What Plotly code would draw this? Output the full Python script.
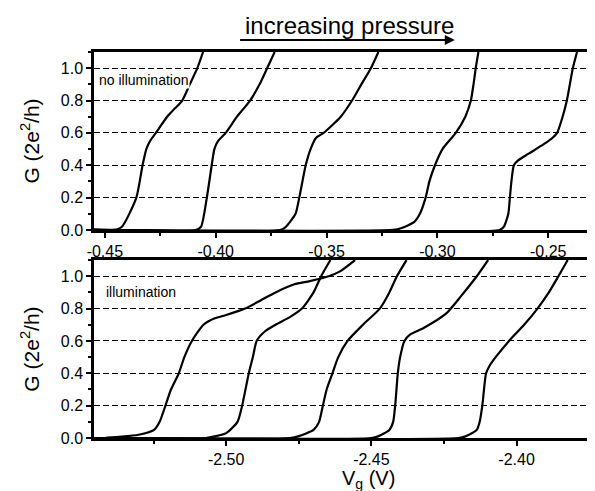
import plotly.graph_objects as go

# ---- data: top panel (no illumination), Vg in V, G in 2e^2/h ----
top_x1 = [-0.455, -0.446, -0.4423, -0.4358, -0.4330, -0.4313, -0.4296, -0.4270, -0.4219, -0.4185, -0.4151, -0.4117, -0.4083, -0.4057]
top_y1 = [0.0, 0.0, 0.02, 0.2, 0.4, 0.5, 0.55, 0.6, 0.7, 0.75, 0.8, 0.9, 1.0, 1.1]
top_x2 = [-0.455, -0.409, -0.4066, -0.4040, -0.4018, -0.4006, -0.3989, -0.3955, -0.3904, -0.3845, -0.3802, -0.3768, -0.3734]
top_y2 = [0.0, 0.0, 0.02, 0.2, 0.4, 0.5, 0.55, 0.6, 0.7, 0.8, 0.9, 1.0, 1.1]
top_x3 = [-0.455, -0.371, -0.3683, -0.3640, -0.3623, -0.3594, -0.3572, -0.3547, -0.3513, -0.3436, -0.3385, -0.3343, -0.3300, -0.3266]
top_y3 = [0.0, 0.0, 0.02, 0.1, 0.2, 0.4, 0.5, 0.57, 0.6, 0.7, 0.8, 0.9, 1.0, 1.1]
top_x4 = [-0.455, -0.320, -0.3164, -0.3104, -0.3079, -0.3053, -0.3036, -0.3011, -0.2977, -0.2917, -0.2874, -0.2849, -0.2837, -0.2827, -0.2815]
top_y4 = [0.0, 0.0, 0.01, 0.05, 0.1, 0.2, 0.3, 0.4, 0.5, 0.6, 0.7, 0.8, 0.9, 1.0, 1.1]
top_x5 = [-0.455, -0.272, -0.2700, -0.2680, -0.2673, -0.2666, -0.2655, -0.2636, -0.2590, -0.2520, -0.2480, -0.2460, -0.2435, -0.2416, -0.2389, -0.2370]
top_y5 = [0.0, 0.0, 0.02, 0.1, 0.2, 0.3, 0.4, 0.43, 0.47, 0.53, 0.57, 0.6, 0.7, 0.8, 1.0, 1.1]

# ---- data: bottom panel (illumination) ----
bot_x1 = [-2.546, -2.5418, -2.5301, -2.5248, -2.5229, -2.5209, -2.5190, -2.5163, -2.5144, -2.5118, -2.5078, -2.5039, -2.5000, -2.4935, -2.4882, -2.4830, -2.4765, -2.4712, -2.4647, -2.4608, -2.4556]
bot_y1 = [0.0, 0.0, 0.02, 0.05, 0.1, 0.2, 0.3, 0.4, 0.5, 0.6, 0.7, 0.74, 0.76, 0.8, 0.85, 0.9, 0.95, 0.97, 1.0, 1.03, 1.1]
bot_x2 = [-2.546, -2.507, -2.5039, -2.5000, -2.4961, -2.4945, -2.4922, -2.4908, -2.4895, -2.4866, -2.4830, -2.4778, -2.4739, -2.4699, -2.4673, -2.4641]
bot_y2 = [0.0, 0.0, 0.01, 0.03, 0.1, 0.2, 0.4, 0.5, 0.6, 0.66, 0.7, 0.75, 0.8, 0.9, 1.0, 1.1]
bot_x3 = [-2.546, -2.478, -2.4752, -2.4699, -2.4680, -2.4667, -2.4654, -2.4634, -2.4614, -2.4582, -2.4529, -2.4471, -2.4438, -2.4412, -2.4379]
bot_y3 = [0.0, 0.0, 0.01, 0.05, 0.1, 0.2, 0.3, 0.4, 0.5, 0.6, 0.7, 0.8, 0.9, 1.0, 1.1]
bot_x4 = [-2.546, -2.450, -2.4477, -2.4438, -2.4425, -2.4418, -2.4409, -2.4401, -2.4386, -2.4366, -2.4320, -2.4242, -2.4190, -2.4137, -2.4098]
bot_y4 = [0.0, 0.0, 0.01, 0.05, 0.1, 0.2, 0.4, 0.5, 0.6, 0.64, 0.68, 0.77, 0.88, 1.0, 1.1]
bot_x5 = [-2.546, -2.420, -2.4176, -2.4137, -2.4127, -2.4118, -2.4105, -2.4092, -2.4072, -2.4026, -2.3974, -2.3928, -2.3889, -2.3856, -2.3824]
bot_y5 = [0.0, 0.0, 0.01, 0.05, 0.1, 0.2, 0.4, 0.45, 0.5, 0.6, 0.7, 0.8, 0.9, 1.0, 1.1]

top_series = [(top_x1, top_y1), (top_x2, top_y2), (top_x3, top_y3), (top_x4, top_y4), (top_x5, top_y5)]
bot_series = [(bot_x1, bot_y1), (bot_x2, bot_y2), (bot_x3, bot_y3), (bot_x4, bot_y4), (bot_x5, bot_y5)]

y_ticks = [0.0, 0.2, 0.4, 0.6, 0.8, 1.0]
y_tick_labels = ["0.0", "0.2", "0.4", "0.6", "0.8", "1.0"]
top_x_ticks = [-0.45, -0.40, -0.35, -0.30, -0.25]
top_x_labels = ["-0.45", "-0.40", "-0.35", "-0.30", "-0.25"]
bot_x_ticks = [-2.50, -2.45, -2.40]
bot_x_labels = ["-2.50", "-2.45", "-2.40"]

FONT = "Arial, Liberation Sans, Helvetica, sans-serif"

fig = go.Figure()
for x, y in top_series:
    fig.add_trace(go.Scatter(x=x, y=y, mode="lines", line=dict(color="black", width=2.2, shape="spline", smoothing=0.6),
                             xaxis="x", yaxis="y", showlegend=False, hoverinfo="skip"))
for x, y in bot_series:
    fig.add_trace(go.Scatter(x=x, y=y, mode="lines", line=dict(color="black", width=2.2, shape="spline", smoothing=0.6),
                             xaxis="x2", yaxis="y2", showlegend=False, hoverinfo="skip"))

common_x = dict(showline=True, linecolor="black", linewidth=2.5, mirror=True, ticks="outside", ticklen=5,
                tickwidth=2, tickcolor="black", showgrid=False, zeroline=False,
                tickfont=dict(family=FONT, size=16, color="black"))
common_y = dict(showline=True, linecolor="black", linewidth=2.5, mirror=True, ticks="outside", ticklen=5,
                tickwidth=2, tickcolor="black", showgrid=True, gridcolor="black", gridwidth=1.3,
                griddash="6px,3px", zeroline=False, range=[0, 1.1],
                tickvals=y_ticks, ticktext=y_tick_labels,
                tickfont=dict(family=FONT, size=16, color="black"),
                minor=dict(ticks="outside", ticklen=3, tickwidth=2, tickcolor="black", dtick=0.1, tick0=0, showgrid=False),
                title=dict(text="G (2e<sup>2</sup>/h)", font=dict(family=FONT, size=21, color="black"), standoff=16))

fig.update_layout(
    width=595, height=491,
    margin=dict(l=86, r=5, t=44, b=61),
    paper_bgcolor="white", plot_bgcolor="white",
    showlegend=False,
    xaxis=dict(common_x, anchor="y", domain=[0, 1], range=[-0.4549, -0.2289],
               tickvals=top_x_ticks, ticktext=top_x_labels,
               minor=dict(ticks="outside", ticklen=3, tickwidth=2, tickcolor="black", dtick=0.025, tick0=-0.45)),
    yaxis=dict(common_y, anchor="x", domain=[0.539, 1.0]),
    xaxis2=dict(common_x, anchor="y2", domain=[0, 1], range=[-2.5455, -2.373],
                tickvals=bot_x_ticks, ticktext=bot_x_labels,
                minor=dict(ticks="outside", ticklen=3, tickwidth=2, tickcolor="black", dtick=0.025, tick0=-2.5)),
    yaxis2=dict(common_y, anchor="x2", domain=[0, 0.461]),
)

fig.add_annotation(text="V<sub>g</sub> (V)", xref="paper", yref="paper", x=(362 - 86) / 504, y=(430 - 471) / 386,
                   showarrow=False, xanchor="center", yanchor="middle",
                   font=dict(family=FONT, size=20, color="black"))
fig.add_annotation(text="no illumination", xref="x domain", yref="y", x=0.007, y=0.925, showarrow=False,
                   xanchor="left", yanchor="middle", font=dict(family=FONT, size=14, color="black"),
                   bgcolor="white", borderpad=0)
fig.add_annotation(text="illumination", xref="x2 domain", yref="y2", x=0.02, y=0.9, showarrow=False,
                   xanchor="left", yanchor="middle", font=dict(family=FONT, size=14, color="black"))
fig.add_annotation(text="increasing pressure", xref="paper", yref="paper", x=(343 - 86) / 504, y=1.0, yshift=27,
                   showarrow=False, xanchor="center", yanchor="middle",
                   font=dict(family=FONT, size=24, color="black"))
fig.add_shape(type="line", xref="paper", yref="paper", x0=(233 - 86) / 504, x1=(444 - 86) / 504,
              y0=1 + 12 / 386, y1=1 + 12 / 386, line=dict(color="black", width=2))
fig.add_annotation(xref="paper", yref="paper", x=(449 - 86) / 504, y=1 + 12 / 386,
                   ax=-6, ay=0, axref="pixel", ayref="pixel", showarrow=True, text="",
                   arrowhead=2, arrowsize=1, arrowwidth=2, arrowcolor="black")

fig.write_html("out.html")
